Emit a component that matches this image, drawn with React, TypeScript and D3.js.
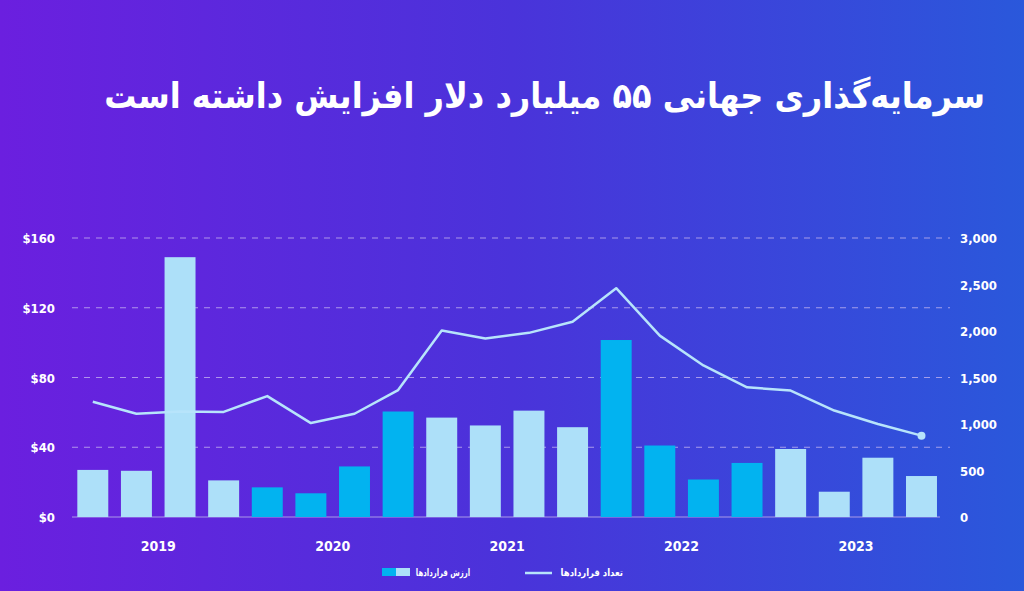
import React from "react";
import * as d3 from "d3";

const quarters = d3.range(20).map((i) => `Q${(i % 4) + 1}-${2019 + Math.floor(i / 4)}`);
const years = ["2019", "2020", "2021", "2022", "2023"];
const dealValue = [27, 26.5, 149, 21, 17, 13.6, 29, 60.5, 57, 52.5, 61, 51.5, 101.5, 41, 21.5, 31, 39, 14.5, 34, 23.5];
const dealCount = [1240, 1110, 1135, 1130, 1300, 1010, 1110, 1365, 2005, 1920, 1980, 2100, 2460, 1950, 1630, 1395, 1360, 1145, 1000, 875];
const leftTicks = [0, 40, 80, 120, 160];
const rightTicks = [0, 500, 1000, 1500, 2000, 2500, 3000];
const title = "سرمایه‌گذاری جهانی ۵۵ میلیارد دلار افزایش داشته است";
const legendBars = "ارزش قراردادها";
const legendLine = "تعداد قراردادها";

const W = 1024;
const H = 591;
const numFont = "'DejaVu Sans Condensed', 'Liberation Sans Narrow', sans-serif";
const faFont = "'DejaVu Sans', sans-serif";

export default function App() {
  const x = d3.scaleBand<string>().domain(quarters).range([71, 943.3]).paddingInner(0.29).paddingOuter(0.145);
  const yL = d3.scaleLinear().domain([0, 160]).range([517, 238]);
  const yR = d3.scaleLinear().domain([0, 3000]).range([517, 238]);
  const cx = (i: number) => (x(quarters[i]) as number) + x.bandwidth() / 2;
  const line = d3
    .line<number>()
    .x((_, i) => cx(i))
    .y((d) => yR(d));
  const last = dealCount.length - 1;

  return (
    <svg
      width={W}
      height={H}
      style={{ position: "absolute", left: 0, top: 0, display: "block" }}
    >
      <defs>
        <linearGradient id="bg" x1="0" y1="0" x2="1" y2="0">
          <stop offset="0" stopColor="#6b1fdf" />
          <stop offset="0.5" stopColor="#4a33da" />
          <stop offset="1" stopColor="#2a58db" />
        </linearGradient>
      </defs>
      <rect x={0} y={0} width={W} height={H} fill="url(#bg)" />

      <g transform="translate(985,108) scale(0.915,1)">
        <text
          x={0}
          y={0}
          textAnchor="end"
          fill="#ffffff"
          fontFamily={faFont}
          fontWeight="bold"
          fontSize={35}
        >
          {title}
        </text>
      </g>

      {leftTicks.slice(1).map((t) => (
        <line
          key={t}
          x1={72}
          x2={950}
          y1={yL(t)}
          y2={yL(t)}
          stroke="#c9b8f0"
          strokeOpacity={0.75}
          strokeWidth={1.2}
          strokeDasharray="6 6"
        />
      ))}
      <line x1={72} x2={940} y1={517} y2={517} stroke="#a99ae8" strokeWidth={1.2} />

      {leftTicks.map((t) => (
        <text
          key={t}
          x={55}
          y={yL(t) + 5}
          textAnchor="end"
          fill="#ffffff"
          fontFamily={numFont}
          fontWeight="bold"
          fontSize={13}
        >
          {"$" + t}
        </text>
      ))}
      {rightTicks.map((t) => (
        <text
          key={t}
          x={960}
          y={yR(t) + 5}
          textAnchor="start"
          fill="#ffffff"
          fontFamily={numFont}
          fontWeight="bold"
          fontSize={13}
        >
          {d3.format(",")(t)}
        </text>
      ))}

      {dealValue.map((v, i) => (
        <rect
          key={i}
          x={x(quarters[i])}
          y={yL(v)}
          width={x.bandwidth()}
          height={yL(0) - yL(v)}
          fill={Math.floor(i / 4) % 2 === 1 ? "#02b3f0" : "#ade0f9"}
        />
      ))}

      <path d={line(dealCount) || ""} fill="none" stroke="#b7e4fb" strokeWidth={2.5} strokeLinejoin="round" />
      <circle cx={cx(last)} cy={yR(dealCount[last])} r={4} fill="#b7e4fb" />

      {years.map((y, k) => (
        <text
          key={y}
          x={(cx(k * 4 + 1) + cx(k * 4 + 2)) / 2}
          y={551}
          textAnchor="middle"
          fill="#ffffff"
          fontFamily={numFont}
          fontWeight="bold"
          fontSize={14}
        >
          {y}
        </text>
      ))}

      <rect x={382} y={568} width={14} height={8} fill="#02b3f0" />
      <rect x={396} y={568} width={14} height={8} fill="#ade0f9" />
      <g transform="translate(470,576) scale(0.69,1)">
        <text x={0} y={0} textAnchor="end" fill="#ffffff" fontFamily={faFont} fontWeight="bold" fontSize={10}>
          {legendBars}
        </text>
      </g>
      <line x1={525} x2={552} y1={573} y2={573} stroke="#b7e4fb" strokeWidth={2.5} />
      <g transform="translate(623,576) scale(0.85,1)">
        <text x={0} y={0} textAnchor="end" fill="#ffffff" fontFamily={faFont} fontWeight="bold" fontSize={10}>
          {legendLine}
        </text>
      </g>
    </svg>
  );
}
